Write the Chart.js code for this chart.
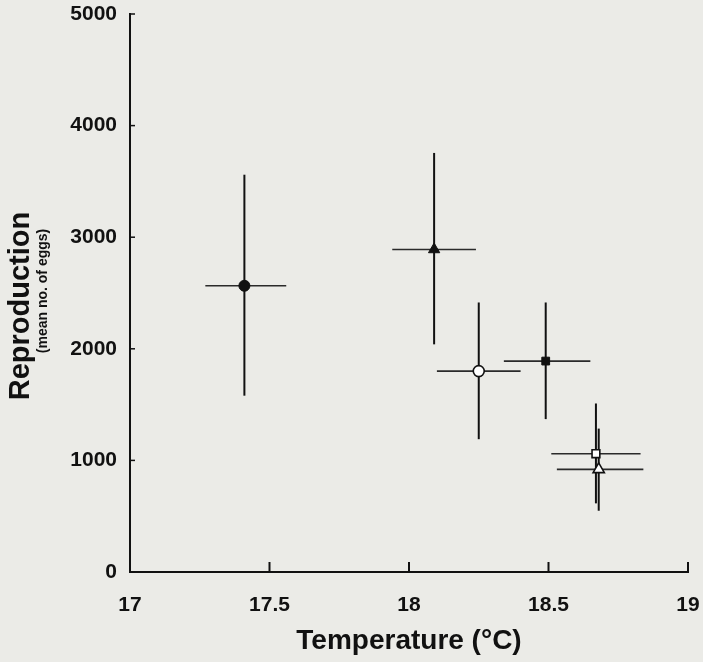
<!DOCTYPE html>
<html>
<head>
<meta charset="utf-8">
<script src="https://cdn.jsdelivr.net/npm/chart.js@4/dist/chart.umd.min.js"></script>
<style>
  html, body { margin: 0; padding: 0; background: #ebebe7; }
  #wrap { width: 703px; height: 662px; }
</style>
</head>
<body>
<div id="wrap"><canvas id="grafica" width="703" height="662"></canvas></div>
<script>
// datos
var temps     = [17.41, 18.09, 18.25, 18.49, 18.67, 18.68];
var eggs      = [2565, 2890, 1800, 1890, 1060, 920];
var tempLow   = [17.27, 17.94, 18.10, 18.34, 18.51, 18.53];
var tempHigh  = [17.56, 18.24, 18.40, 18.65, 18.83, 18.84];
var eggsLow   = [1580, 2040, 1190, 1370, 615, 549];
var eggsHigh  = [3560, 3755, 2415, 2415, 1510, 1285];
var markers   = ['circle', 'triangle', 'circle', 'rect', 'rect', 'triangle'];
var filled    = [true, true, false, true, false, false];
var xTicks    = [17, 17.5, 18, 18.5, 19];
var yTicks    = [0, 1000, 2000, 3000, 4000, 5000];

var fuente = "'Liberation Sans', Arial, sans-serif";

var puntos = temps.map(function(t, i){ return {x: t, y: eggs[i]}; });

var fondo = {
    id: 'fondo',
    beforeDraw: function(chart){
        var c = chart.ctx;
        c.save();
        c.fillStyle = '#ebebe7';
        c.fillRect(0, 0, chart.width, chart.height);
        c.restore();
    }
};

var barras = {
    id: 'barras',
    beforeDatasetsDraw: function(chart){
        var c = chart.ctx, xs = chart.scales.x, ys = chart.scales.y;
        c.save();
        for (var i = 0; i < temps.length; i++) {
            var px = xs.getPixelForValue(temps[i]);
            var py = ys.getPixelForValue(eggs[i]);
            // horizontal
            c.strokeStyle = '#2a2a2a';
            c.lineWidth = 1.6;
            c.beginPath();
            c.moveTo(xs.getPixelForValue(tempLow[i]), py);
            c.lineTo(xs.getPixelForValue(tempHigh[i]), py);
            c.stroke();
            // vertical
            c.strokeStyle = '#111';
            c.lineWidth = 2;
            c.beginPath();
            c.moveTo(px, ys.getPixelForValue(eggsLow[i]));
            c.lineTo(px, ys.getPixelForValue(eggsHigh[i]));
            c.stroke();
        }
        c.restore();
    }
};

var marcas = {
    id: 'marcas',
    afterDraw: function(chart){
        var c = chart.ctx, xs = chart.scales.x, ys = chart.scales.y;
        var a = chart.chartArea;
        c.save();
        c.strokeStyle = '#111';
        c.lineWidth = 2;
        // ticks hacia adentro
        xTicks.forEach(function(v){
            var p = xs.getPixelForValue(v);
            c.beginPath();
            c.moveTo(p, a.bottom);
            c.lineTo(p, a.bottom - 10);
            c.stroke();
        });
        c.lineWidth = 1.5;
        yTicks.forEach(function(v){
            var p = ys.getPixelForValue(v);
            c.beginPath();
            c.moveTo(a.left, p);
            c.lineTo(a.left + 5, p);
            c.stroke();
        });
        // titulos del eje y
        c.fillStyle = '#111';
        c.textAlign = 'center';
        c.textBaseline = 'middle';
        c.translate(21, 306);
        c.rotate(-Math.PI / 2);
        c.font = 'bold 29px ' + fuente;
        c.fillText('Reproduction', 0, 0);
        c.font = 'bold 14px ' + fuente;
        c.fillText('(mean no. of eggs)', 15, 22);
        c.restore();
    }
};

var ctx = document.getElementById('grafica').getContext('2d');
var chart = new Chart(ctx, {
    type: 'scatter',
    data: {
        datasets: [{
            data: puntos,
            pointStyle: markers,
            pointRadius: [5.5, 6.5, 5.5, 5.5, 5.5, 6.5],
            pointHoverRadius: [5.5, 6.5, 5.5, 5.5, 5.5, 6.5],
            backgroundColor: filled.map(function(f){ return f ? '#111' : '#fff'; }),
            borderColor: '#111',
            borderWidth: filled.map(function(f){ return f ? 1 : 1.6; })
        }]
    },
    options: {
        responsive: false,
        animation: false,
        layout: { padding: { top: 14, right: 15, left: 0, bottom: 0 } },
        plugins: {
            legend: { display: false },
            tooltip: { enabled: false }
        },
        scales: {
            x: {
                type: 'linear',
                min: 17, max: 19,
                afterFit: function(s){ s.height = 90; s.paddingLeft = 0; s.paddingRight = 0; },
                afterBuildTicks: function(s){ s.ticks = xTicks.map(function(v){ return {value: v}; }); },
                grid: { display: true, drawOnChartArea: false, drawTicks: false },
                border: { display: true, color: '#111', width: 2 },
                ticks: {
                    padding: 21,
                    color: '#111',
                    font: { family: fuente, size: 21, weight: 'bold' },
                    callback: function(v){ return String(v); }
                },
                title: {
                    display: true,
                    text: 'Temperature (°C)',
                    color: '#111',
                    font: { family: fuente, size: 28, weight: 'bold' },
                    padding: { top: 3 }
                }
            },
            y: {
                type: 'linear',
                min: 0, max: 5000,
                afterFit: function(s){ s.width = 130; s.paddingTop = 0; s.paddingBottom = 0; },
                afterBuildTicks: function(s){ s.ticks = yTicks.map(function(v){ return {value: v}; }); },
                grid: { display: true, drawOnChartArea: false, drawTicks: false },
                border: { display: true, color: '#111', width: 2 },
                ticks: {
                    padding: 13,
                    color: '#111',
                    font: { family: fuente, size: 21, weight: 'bold' },
                    callback: function(v){ return String(v); }
                }
            }
        }
    },
    plugins: [fondo, barras, marcas]
});
</script>
</body>
</html>
